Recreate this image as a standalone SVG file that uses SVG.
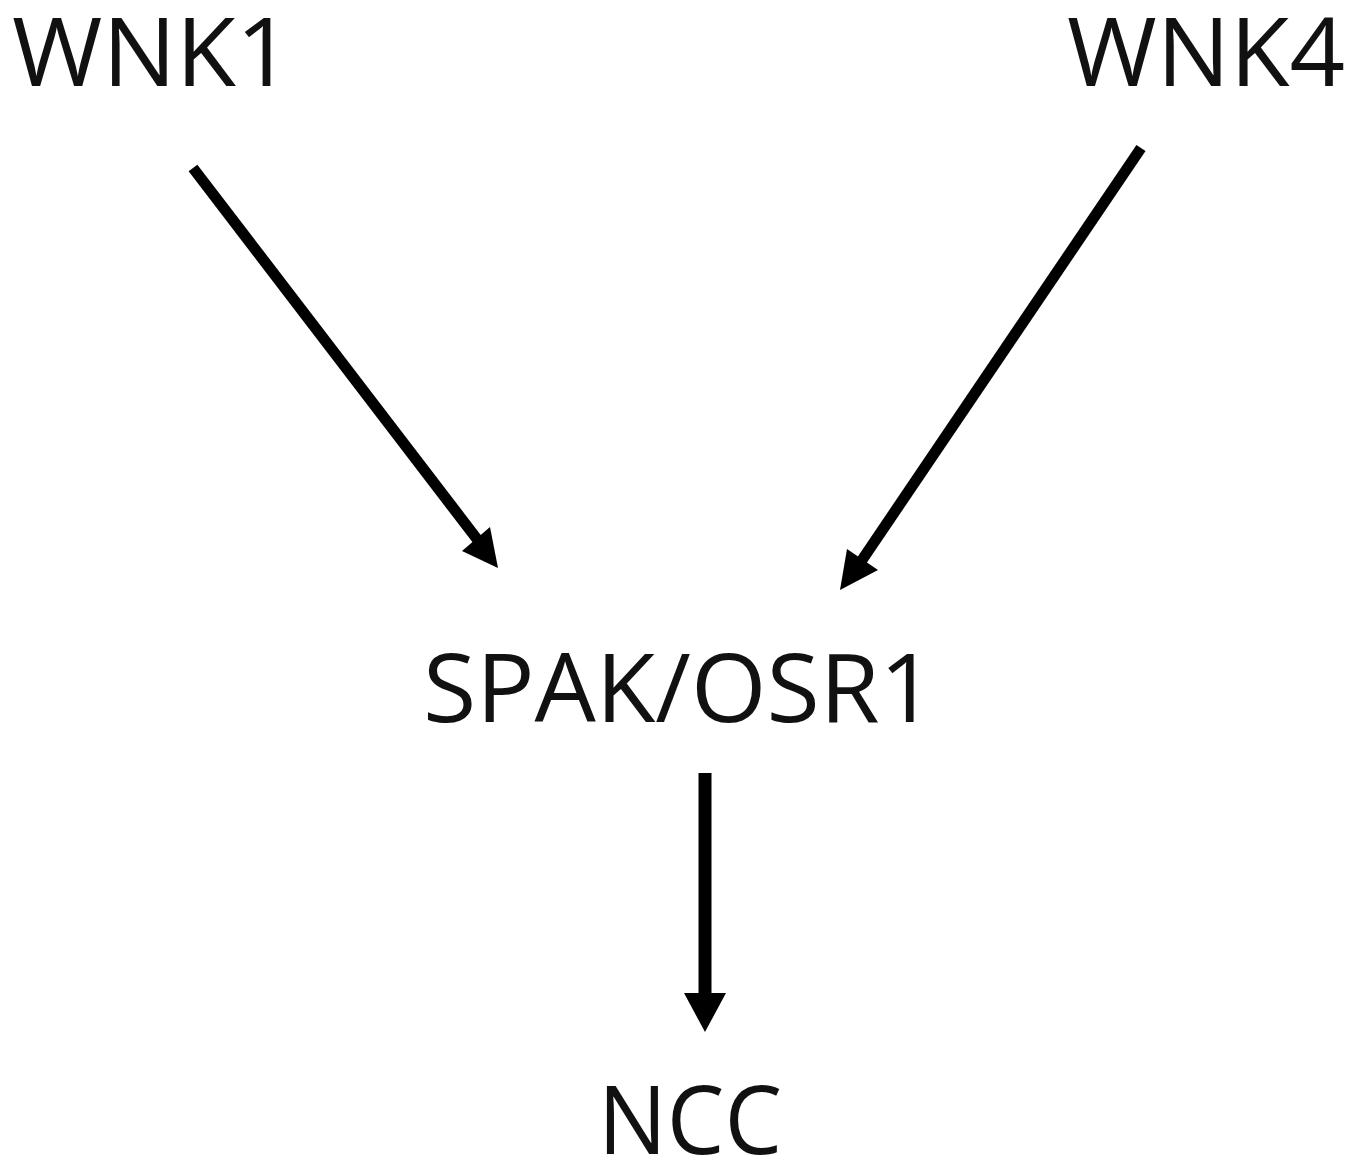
<svg xmlns="http://www.w3.org/2000/svg" width="1363" height="1167" viewBox="0 0 1363 1167">
<style>
.lbl{font-family:"Open Sans","Liberation Sans",sans-serif;font-size:96px;fill:#111;text-anchor:middle}
.conn line{stroke:#000;stroke-width:11;stroke-linecap:butt}
.conn polygon{fill:#000}
</style>
<rect width="1363" height="1167" fill="#fff"/>
<g id="node-wnk1"><text class="lbl" x="152" y="86" textLength="280" lengthAdjust="spacingAndGlyphs">WNK1</text></g>
<g id="node-wnk4"><text class="lbl" x="1206" y="86" textLength="278" lengthAdjust="spacingAndGlyphs">WNK4</text></g>
<g id="node-spak"><text class="lbl" x="679" y="722" textLength="512" lengthAdjust="spacingAndGlyphs">SPAK/OSR1</text></g>
<g id="node-ncc"><text class="lbl" x="690" y="1154" textLength="184" lengthAdjust="spacingAndGlyphs">NCC</text></g>
<g id="connectors" class="conn">
<line x1="193" y1="168" x2="480" y2="543"/>
<polygon points="498,568 490,527 462,551"/>
<line x1="1141" y1="148" x2="858" y2="566"/>
<polygon points="840,590 847,549 878,570"/>
<line x1="705" y1="773" x2="705" y2="998" style="stroke-width:13"/>
<polygon points="705,1032 684,993 726,993"/>
</g>
</svg>
